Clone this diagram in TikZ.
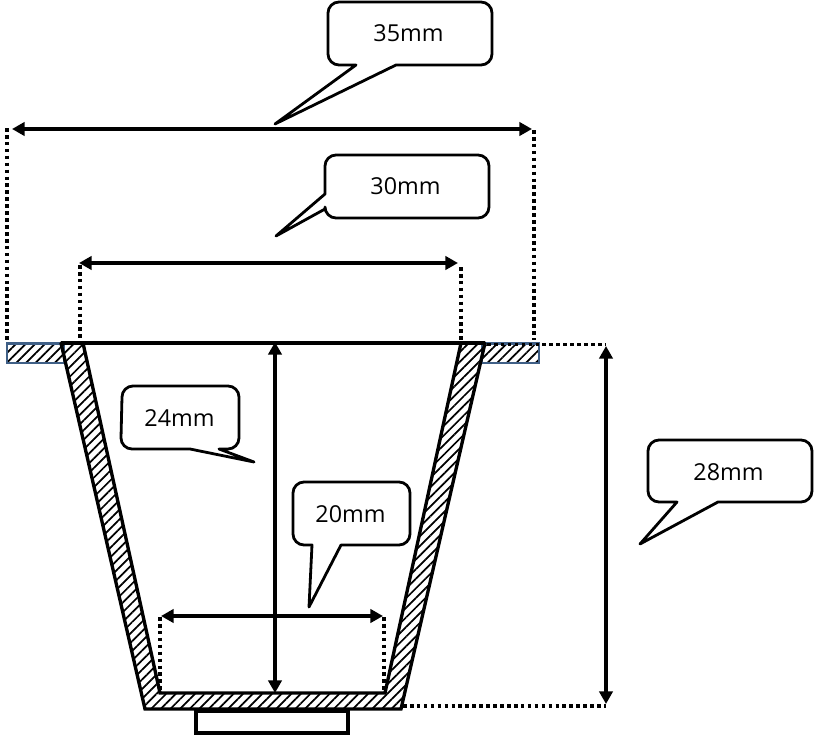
\documentclass[tikz,border=0pt]{standalone}
\usepackage{fontspec}
\setmainfont{Open Sans}
\usetikzlibrary{arrows.meta,patterns.meta}
\definecolor{flangeblue}{HTML}{3F5F86}
\tikzset{
  x=0.75pt,y=-0.75pt,
  wall/.style={draw=black,line width=2.5pt,line join=miter,miter limit=1.5,pattern={Lines[angle=45,distance=5.1pt,line width=1.3pt]}},
  flange/.style={draw=flangeblue,line width=1.8pt,pattern={Lines[angle=45,distance=5.1pt,line width=1.3pt]}},
  rimline/.style={draw=black,line width=2.3pt},
  footbox/.style={draw=black,line width=2.5pt,fill=white},
  dimline/.style={draw=black,line width=2.5pt,{Triangle[length=9.5pt,width=10pt]}-{Triangle[length=9.5pt,width=10pt]}},
  witness/.style={draw=black,line width=2.7pt,dash pattern=on 2.7pt off 2.5pt},
  bubble/.style={draw=black,line width=2.1pt,fill=white,line join=round},
  bubbletext/.style={font=\fontsize{17.5pt}{20pt}\selectfont,text=black,inner sep=0pt},
}
\begin{document}
\begin{tikzpicture}
\useasboundingbox (0,0) rectangle (814,735);
% flanges
\path[flange] (7,343.5) rectangle (64,363);
\path[flange] (482,343.5) rectangle (539,363);
% foot
\path[footbox] (196,711) rectangle (348,733);
% cup wall
\path[wall] (61,343) -- (83,343) -- (160,693) -- (385,693) -- (461,343) -- (485,343) -- (401,709) -- (145,709) -- cycle;
\path[rimline] (61,343) -- (485,343);
% coordinates
\coordinate (a1) at (7,128); \coordinate (a2) at (7,340);
\coordinate (b1) at (534,130); \coordinate (b2) at (534,340);
\coordinate (c1) at (80,265); \coordinate (c2) at (80,340);
\coordinate (d1) at (461,267); \coordinate (d2) at (461,340);
\coordinate (e1) at (160,617); \coordinate (e2) at (160,692);
\coordinate (f1) at (384,617); \coordinate (f2) at (384,692);
\coordinate (g1) at (487,344.5); \coordinate (g2) at (606,344.5);
\coordinate (h1) at (403,706); \coordinate (h2) at (606,706);
\path[witness] (a1) -- (a2);
\path[witness] (b1) -- (b2);
\path[witness] (c1) -- (c2);
\path[witness] (d1) -- (d2);
\path[witness] (e1) -- (e2);
\path[witness] (f1) -- (f2);
\path[witness] (g1) -- (g2);
\path[witness] (h1) -- (h2);
% dimension arrows
\coordinate (p1) at (12,129); \coordinate (p2) at (532,129);
\coordinate (q1) at (79,263); \coordinate (q2) at (458,263);
\coordinate (r1) at (161,616); \coordinate (r2) at (383,616);
\coordinate (s1) at (275,342); \coordinate (s2) at (275,693);
\coordinate (t1) at (606,346); \coordinate (t2) at (606,704);
\path[dimline] (p1) -- (p2);
\path[dimline] (q1) -- (q2);
\path[dimline] (r1) -- (r2);
\path[dimline] (s1) -- (s2);
\path[dimline] (t1) -- (t2);
% callouts
\path[bubble] (339,2) -- (481,2) arc[start angle=90,end angle=0,x radius=11,y radius=-11] -- (492,54) arc[start angle=0,end angle=-90,x radius=11,y radius=-11] -- (396,65) -- (275,124) -- (356,65) -- (339,65) arc[start angle=-90,end angle=-180,x radius=11,y radius=-11] -- (328,13) arc[start angle=180,end angle=90,x radius=11,y radius=-11] -- cycle;
\node[bubbletext] (n35) at (408.5,33.5) {35mm};
\path[bubble] (336,155) -- (478,155) arc[start angle=90,end angle=0,x radius=11,y radius=-11] -- (489,207) arc[start angle=0,end angle=-90,x radius=11,y radius=-11] -- (336,218) arc[start angle=-90,end angle=-180,x radius=11,y radius=-11] -- (325,209) -- (276,236) -- (325,194) -- (325,166) arc[start angle=180,end angle=90,x radius=11,y radius=-11] -- cycle;
\node[bubbletext] (n30) at (405.5,186) {30mm};
\path[bubble] (132,386) -- (228,386) arc[start angle=90,end angle=0,x radius=11,y radius=-11] -- (239,438) arc[start angle=0,end angle=-90,x radius=11,y radius=-11] -- (219,449) -- (254,462) -- (190,449) -- (132,449) arc[start angle=-90,end angle=-180,x radius=11,y radius=-11] -- (122,397) arc[start angle=180,end angle=90,x radius=11,y radius=-11] -- cycle;
\node[bubbletext] (n24) at (179.5,418) {24mm};
\path[bubble] (304,482) -- (399,482) arc[start angle=90,end angle=0,x radius=11,y radius=-11] -- (410,534) arc[start angle=0,end angle=-90,x radius=11,y radius=-11] -- (341,545) -- (309,607) -- (312,545) -- (304,545) arc[start angle=-90,end angle=-180,x radius=11,y radius=-11] -- (293,493) arc[start angle=180,end angle=90,x radius=11,y radius=-11] -- cycle;
\node[bubbletext] (n20) at (350.5,514) {20mm};
\path[bubble] (659,440) -- (801,440) arc[start angle=90,end angle=0,x radius=11,y radius=-11] -- (812,491) arc[start angle=0,end angle=-90,x radius=11,y radius=-11] -- (718,502) -- (640,544) -- (677,502) -- (659,502) arc[start angle=-90,end angle=-180,x radius=11,y radius=-11] -- (648,451) arc[start angle=180,end angle=90,x radius=11,y radius=-11] -- cycle;
\node[bubbletext] (n28) at (728.5,472) {28mm};
\end{tikzpicture}
\end{document}
